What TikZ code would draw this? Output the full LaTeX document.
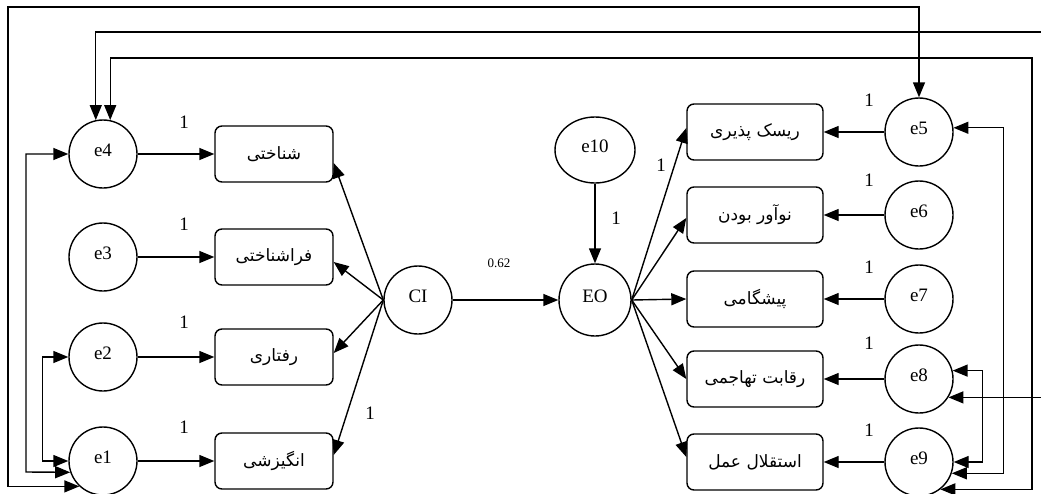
\documentclass[tikz,border=0pt]{standalone}
\usepackage{fontspec}
\setmainfont{Liberation Serif}
\newfontfamily\arabicfont[Script=Arabic]{DejaVu Sans}
\TeXXeTstate=1
\usetikzlibrary{arrows.meta,calc,shapes.geometric}
\begin{document}
\begin{tikzpicture}[x=1pt,y=-1pt,
  lat/.style={draw, circle, minimum size=68pt, inner sep=0pt, line width=1.4pt, text depth=8pt, font=\fontsize{19}{21}\selectfont},
  obs/.style={draw, rounded corners=7pt, minimum width=118pt, minimum height=56pt, line width=1.4pt, font=\arabicfont\fontsize{17}{20}\selectfont},
  obsr/.style={obs, minimum width=136pt},
  tip/.tip={Triangle[length=15pt,width=12pt]},
  arr/.style={line width=1.4pt, -tip},
  cov/.style={line width=1.4pt, tip-tip},
  lbl/.style={font=\fontsize{19}{21}\selectfont, inner sep=0pt}
]
\useasboundingbox (0,0) rectangle (1041,493);
\clip (0,0) rectangle (1041,493);
\fill[white] (0,0) rectangle (1041,493);

% left latent errors
\node[lat] (e4) at (103,154) {e4};
\node[lat] (e3) at (103,257) {e3};
\node[lat] (e2) at (103,357) {e2};
\node[lat] (e1) at (103,461) {e1};
% left indicators
\node[obs] (b4) at (274,154) {\beginR شناختی\endR};
\node[obs] (b3) at (274,257) {\beginR فراشناختی\endR};
\node[obs] (b2) at (274,357) {\beginR رفتاری\endR};
\node[obs] (b1) at (274,461) {\beginR انگیزشی\endR};
% constructs
\node[lat] (CI) at (418,300) {CI};
\node[lat, minimum size=72pt] (EO) at (595,300) {EO};
\node[draw, ellipse, minimum width=80pt, minimum height=66pt, inner sep=0pt, line width=1.4pt, text depth=8pt, font=\fontsize{19}{21}\selectfont] (e10) at (595,150) {e10};
% right indicators
\node[obsr] (b5) at (755,132) {\beginR ریسک پذیری\endR};
\node[obsr] (b6) at (755,215) {\beginR نوآور بودن\endR};
\node[obsr] (b7) at (755,299) {\beginR پیشگامی\endR};
\node[obsr] (b8) at (755,379) {\beginR رقابت تهاجمی\endR};
\node[obsr] (b9) at (755,462) {\beginR استقلال عمل\endR};
% right errors
\node[lat] (e5) at (919,132) {e5};
\node[lat] (e6) at (919,215) {e6};
\node[lat] (e7) at (919,299) {e7};
\node[lat] (e8) at (919,379) {e8};
\node[lat] (e9) at (919,462) {e9};

% error -> indicator
\draw[arr] (e4) -- (b4);
\draw[arr] (e3) -- (b3);
\draw[arr] (e2) -- (b2);
\draw[arr] (e1) -- (b1);
\draw[arr] (e5) -- (b5);
\draw[arr] (e6) -- (b6);
\draw[arr] (e7) -- (b7);
\draw[arr] (e8) -- (b8);
\draw[arr] (e9) -- (b9);

% CI -> indicators
\draw[arr] (CI.west) -- ($(b4.east)+(0,9)$);
\draw[arr] (CI.west) -- ($(b3.east)+(0,5)$);
\draw[arr] (CI.west) -- ($(b2.east)+(0,-4)$);
\draw[arr] (CI.west) -- ($(b1.east)+(0,-6)$);
% CI -> EO, e10 -> EO
\draw[arr] (CI) -- (EO);
\draw[arr] (e10) -- (EO);
% EO -> indicators
\draw[arr] (EO.east) -- ($(b5.west)+(0,-4)$);
\draw[arr] (EO.east) -- ($(b6.west)+(0,3)$);
\draw[arr] (EO.east) -- (b7.west);
\draw[arr] (EO.east) -- (b8.west);
\draw[arr] (EO.east) -- ($(b9.west)+(0,-5)$);

% covariances
\draw[cov] (e1.227) -| (8,7) -| (e5.north);
\draw[cov] (e4.78) |- (1032,58) |- (e9.-52);
\draw[cov] (e4.102) |- (1060,32) |- (e8.-32);
\draw[cov] (e4.west) -| (26,472) -- (e1.199);
\draw[cov] (e2.west) -- ++(-26,0) |- (e1.west);
\draw[cov] (e5.7) -- ++(50,0) |- (e9.-19);
\draw[cov] (e8.14) -- ++(30,0) |- (e9.east);

% labels
\node[lbl] (l1) at (184,122) {1};
\node[lbl] (l2) at (184,224) {1};
\node[lbl] (l3) at (184,322) {1};
\node[lbl] (l4) at (184,427) {1};
\node[lbl] (l5) at (370,413) {1};
\node[lbl] (l6) at (616,218) {1};
\node[lbl] (l7) at (661,165) {1};
\node[lbl] (l8) at (869,100) {1};
\node[lbl] (l9) at (869,180) {1};
\node[lbl] (l10) at (869,267) {1};
\node[lbl] (l11) at (869,343) {1};
\node[lbl] (l12) at (869,430) {1};
\node[font=\fontsize{13}{15}\selectfont, inner sep=0pt] (w) at (499,263) {0.62};
\end{tikzpicture}
\end{document}
